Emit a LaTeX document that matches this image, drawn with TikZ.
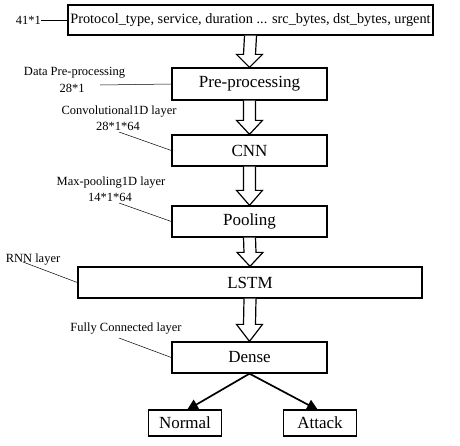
\documentclass[tikz,border=0pt]{standalone}
\usepackage{fontspec}
\setmainfont{Liberation Serif}
\usetikzlibrary{calc,arrows.meta}
\begin{document}
\begin{tikzpicture}[x=1pt,y=-1pt,
  box/.style={draw,line width=1.3pt,inner sep=0pt,font=\fontsize{17}{20}\selectfont},
  lbl/.style={inner sep=0pt,font=\fontsize{12.5}{14}\selectfont,align=center},
  lead/.style={line width=0.5pt},
  harrow/.style={draw,line width=1.2pt,fill=white,line join=miter},
  sarrow/.style={line width=1.7pt,-{Triangle[length=11pt,width=11pt]}}]
\useasboundingbox (0,0) rectangle (460,445);
\node[box,minimum width=365pt,minimum height=30pt,font=\fontsize{14.3}{16}\selectfont] (in) at (250.5,20) {Protocol\_type, service, duration ... src\_bytes, dst\_bytes, urgent};
\node[box,minimum width=155pt,minimum height=32pt] (pre) at (249.5,84) {Pre-processing};
\node[box,minimum width=155pt,minimum height=31pt] (cnn) at (249.5,150.5) {CNN};
\node[box,minimum width=155pt,minimum height=31pt] (pool) at (249.5,221.5) {Pooling};
\node[box,minimum width=344pt,minimum height=31pt] (lstm) at (250,282.5) {LSTM};
\node[box,minimum width=155pt,minimum height=31pt] (dense) at (249.5,357.5) {Dense};
\node[box,minimum width=73pt,minimum height=26pt] (normal) at (185,423) {Normal};
\node[box,minimum width=73pt,minimum height=26pt] (attack) at (320,423) {Attack};
% hollow arrows
\foreach \a/\b/\h in {in/pre/13,pre/cnn/14,cnn/pool/15,pool/lstm/14,lstm/dense/17}{
  \draw[harrow] ($(\a.south)+(-6,0)$) -- ($(\b.north)+(-6,-\h)$) -- ($(\b.north)+(-13,-\h)$) -- (\b.north) -- ($(\b.north)+(13,-\h)$) -- ($(\b.north)+(6,-\h)$) -- ($(\a.south)+(6,0)$);
}
% output arrows
\coordinate (nt) at (187,410);
\coordinate (at) at (318,410);
\draw[sarrow] (dense.south) -- (nt);
\draw[sarrow] (dense.south) -- (at);
% labels
\node[lbl,anchor=east] (l41) at (41,20) {41*1};
\draw[lead] (l41.east) -- (in.west);
\node[lbl] (ldp) at (74.5,73) {Data Pre-processing};
\node[lbl] (ldp2) at (72,88) {28*1};
\coordinate (ldpe) at (100,85);
\draw[lead] (ldpe) -- (pre.west);
\node[lbl] (lconv) at (119,112) {Convolutional1D layer};
\node[lbl] (lconv2) at (118,126) {28*1*64};
\coordinate (lconve) at (119,132);
\draw[lead] (lconve) -- (cnn.west);
\node[lbl] (lmax) at (111,183) {Max-pooling1D layer};
\node[lbl] (lmax2) at (110,197.5) {14*1*64};
\coordinate (lmaxe) at (119,203);
\draw[lead] (lmaxe) -- (pool.west);
\node[lbl] (lrnn) at (33,260) {RNN layer};
\coordinate (lrnne) at (23,262);
\draw[lead] (lrnne) -- (lstm.west);
\node[lbl] (lfc) at (126,329) {Fully Connected layer};
\coordinate (lfce) at (119,338);
\draw[lead] (lfce) -- (dense.west);
\end{tikzpicture}
\end{document}
